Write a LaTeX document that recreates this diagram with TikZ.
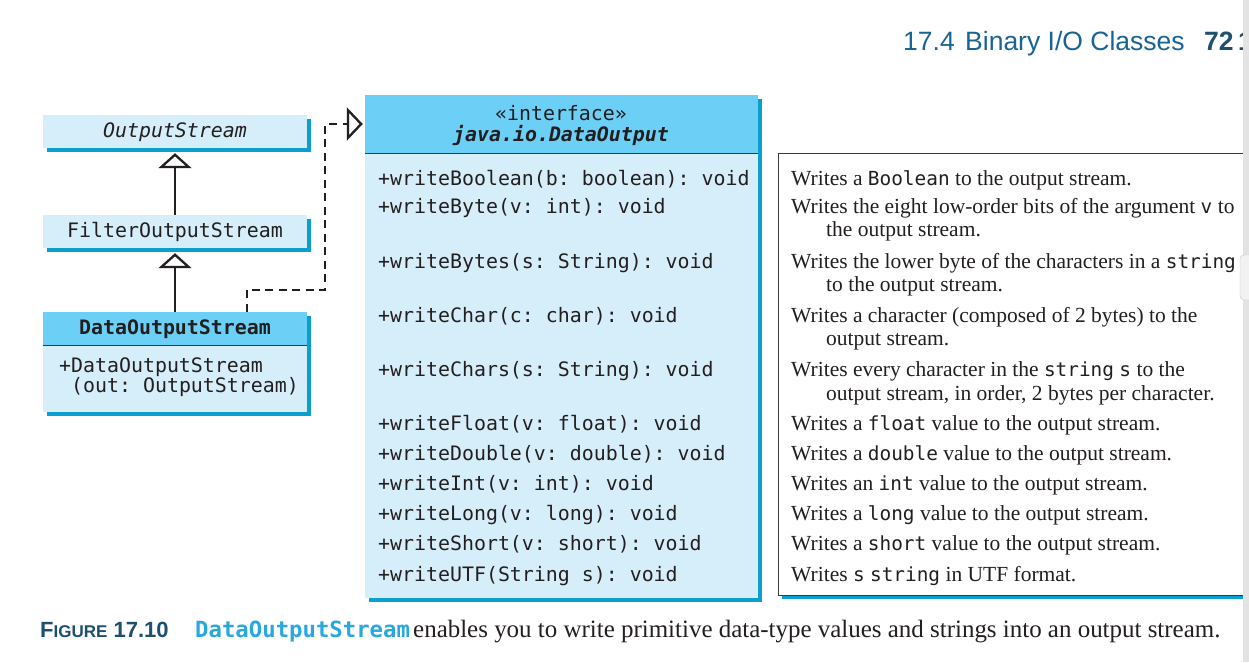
\documentclass[tikz,border=0pt]{standalone}
\usepackage{fontspec}
\setmainfont{Liberation Serif}
\setmonofont{DejaVu Sans Mono}
\newfontfamily\hdrsans{Liberation Sans}
\usetikzlibrary{arrows.meta,calc}
\definecolor{hdrblue}{HTML}{6CCFF6}
\definecolor{bodyblue}{HTML}{D6EEFA}
\definecolor{shadowblue}{HTML}{0B9FD0}
\definecolor{titleblue}{HTML}{1A6494}
\definecolor{capblue}{HTML}{29A8E0}
\definecolor{figblue}{HTML}{1D4F6E}
\definecolor{framegray}{HTML}{3A3A3A}
\definecolor{ink}{HTML}{231F20}
\newcommand\dmono[1]{{\fontsize{19.4}{21}\selectfont\ttfamily #1}}
\begin{document}
\begin{tikzpicture}[x=1pt,y=-1pt,
  mono/.style={font=\fontsize{19.9}{21}\selectfont\ttfamily, text=ink, inner sep=0pt, anchor=base west},
  desc/.style={font=\fontsize{21.5}{23}\selectfont, text=ink, inner sep=0pt, anchor=base west},
  lightbox/.style={fill=bodyblue, inner sep=0pt, text=ink, text height=16pt, text depth=3.5pt},
  darkbox/.style={fill=hdrblue, inner sep=0pt, text=ink, text height=16pt, text depth=3.5pt},
  inherit/.style={draw=ink, line width=2.5pt, -{Triangle[open, fill=white, length=15pt, width=33pt, line width=2.3pt]}, shorten >=5pt},
  realize/.style={draw=ink, line width=2.5pt, dash pattern=on 8pt off 5.5pt, -{Triangle[open, fill=white, length=16pt, width=33pt, line width=2.3pt]}, shorten >=2pt},
]
\fill[white] (0,0) rectangle (1249,662);
\clip (0,0) rectangle (1249,662);

% page header
\node[font=\hdrsans\fontsize{26.5}{28}\selectfont, text=titleblue, inner sep=0pt, anchor=base west] (sec) at (903,50) {17.4};
\node[font=\hdrsans\fontsize{26.5}{28}\selectfont, text=titleblue, inner sep=0pt, anchor=base west] (sectitle) at (965,50) {Binary I/O Classes};
\node[font=\hdrsans\bfseries\fontsize{26.5}{28}\selectfont, text=figblue, inner sep=0pt, anchor=base west] (pg) at (1204,50) {72};
\node[font=\hdrsans\bfseries\fontsize{26.5}{28}\selectfont, text=figblue, inner sep=0pt, anchor=base west] (pgcut) at (1238,50) {1};

% shadows
\fill[shadowblue] (46.5,118.5) rectangle (310.5,151.5);
\fill[shadowblue] (46.5,218.5) rectangle (310.5,251.5);
\fill[shadowblue] (46.5,315.5) rectangle (310.5,415.5);
\fill[shadowblue] (368.5,98.5) rectangle (761.5,601.5);
\fill[shadowblue] (781.5,156.5) rectangle (1260,598.5);

% OutputStream
\node[lightbox, minimum width=264pt, minimum height=33pt,
  font=\fontsize{19.9}{21}\selectfont\ttfamily\itshape] (os) at (175,131.5) {OutputStream};
% FilterOutputStream
\node[lightbox, minimum width=264pt, minimum height=33pt,
  font=\fontsize{19.9}{21}\selectfont\ttfamily] (fos) at (175,231.5) {FilterOutputStream};
% DataOutputStream
\node[darkbox, minimum width=264pt, minimum height=33pt,
  font=\fontsize{19.9}{21}\selectfont\ttfamily\bfseries] (dosh) at (175,328.5) {DataOutputStream};
\node[lightbox, minimum width=264pt, minimum height=67pt] (dosb) at (175,378.5) {};
\draw[framegray, line width=1.2pt] (dosh.south west) -- (dosh.south east);
\node[mono] (dosc1) at (59,372) {+DataOutputStream};
\node[mono] (dosc2) at (71,392) {(out: OutputStream)};

% interface
\node[darkbox, minimum width=393pt, minimum height=58pt] (ih) at (561.5,124) {};
\node[lightbox, minimum width=393pt, minimum height=445pt] (ib) at (561.5,375.5) {};
\draw[framegray, line width=1.2pt] (ih.south west) -- (ih.south east);
\node[font=\fontsize{19.9}{21}\selectfont\ttfamily, text=ink, inner sep=0pt, anchor=base] (st) at (561,120) {«interface»};
\node[font=\fontsize{19.9}{21}\selectfont\ttfamily\bfseries\itshape, text=ink, inner sep=0pt, anchor=base] (iname) at (561,141.5) {java.io.DataOutput};

\node[mono] (m1) at (378,185) {+writeBoolean(b: boolean): void};
\node[mono] (m2) at (378,213) {+writeByte(v: int): void};
\node[mono] (m3) at (378,268) {+writeBytes(s: String): void};
\node[mono] (m4) at (378,322) {+writeChar(c: char): void};
\node[mono] (m5) at (378,376) {+writeChars(s: String): void};
\node[mono] (m6) at (378,430) {+writeFloat(v: float): void};
\node[mono] (m7) at (378,460) {+writeDouble(v: double): void};
\node[mono] (m8) at (378,490) {+writeInt(v: int): void};
\node[mono] (m9) at (378,520) {+writeLong(v: long): void};
\node[mono] (m10) at (378,550) {+writeShort(v: short): void};
\node[mono] (m11) at (378,581) {+writeUTF(String s): void};

% description box
\node[draw=framegray, line width=1.2pt, fill=white, minimum width=480pt, minimum height=442pt, inner sep=0pt, anchor=north west] (dbox) at (778,153) {};
\node[desc] (d1) at (791,185) {Writes a \dmono{Boolean} to the output stream.};
\node[desc] (d2) at (791,213) {Writes the eight low-order bits of the argument \dmono{v} to};
\node[desc] (d2b) at (826,236.5) {the output stream.};
\node[desc] (d3) at (791,268) {Writes the lower byte of the characters in a \dmono{string}};
\node[desc] (d3b) at (826,291.5) {to the output stream.};
\node[desc] (d4) at (791,322) {Writes a character (composed of 2 bytes) to the};
\node[desc] (d4b) at (826,345) {output stream.};
\node[desc] (d5) at (791,376.5) {Writes every character in the \dmono{string} \dmono{s} to the};
\node[desc] (d5b) at (826,400) {output stream, in order, 2 bytes per character.};
\node[desc] (d6) at (791,430) {Writes a \dmono{float} value to the output stream.};
\node[desc] (d7) at (791,460) {Writes a \dmono{double} value to the output stream.};
\node[desc] (d8) at (791,490) {Writes an \dmono{int} value to the output stream.};
\node[desc] (d9) at (791,520.5) {Writes a \dmono{long} value to the output stream.};
\node[desc] (d10) at (791,550.5) {Writes a \dmono{short} value to the output stream.};
\node[desc] (d11) at (791,581) {Writes \dmono{s} \dmono{string} in UTF format.};

% connectors
\draw[inherit] (fos.north) -- (os.south);
\draw[inherit] (dosh.north) -- (fos.south);
\coordinate (dstart) at ($(dosh.north west)+(204,0)$);
\draw[realize] (dstart) -- ++(0,-22) -| (325,124) -- (ih.west);

% caption
\node[font=\hdrsans\bfseries\fontsize{22}{24}\selectfont, text=figblue, inner sep=0pt, anchor=base west] (fig) at (40,637) {F{\fontsize{17}{20}\selectfont IGURE} 17.10};
\node[font=\fontsize{22.3}{24}\selectfont\ttfamily\bfseries, text=capblue, inner sep=0pt, anchor=base west] (capcode) at (195,637) {DataOutputStream};
\node[font=\fontsize{24.95}{26}\selectfont, text=ink, inner sep=0pt, anchor=base west] (captext) at (413,637) {enables you to write primitive data-type values and strings into an output stream.};

% viewer scrollbar strip
\fill[black!11] (1243,0) rectangle (1249,662);
\draw[black!22, fill=black!5, rounded corners=4pt] (1249,255) -- (1240,255) -- (1240,300) -- (1249,300);
\end{tikzpicture}
\end{document}
